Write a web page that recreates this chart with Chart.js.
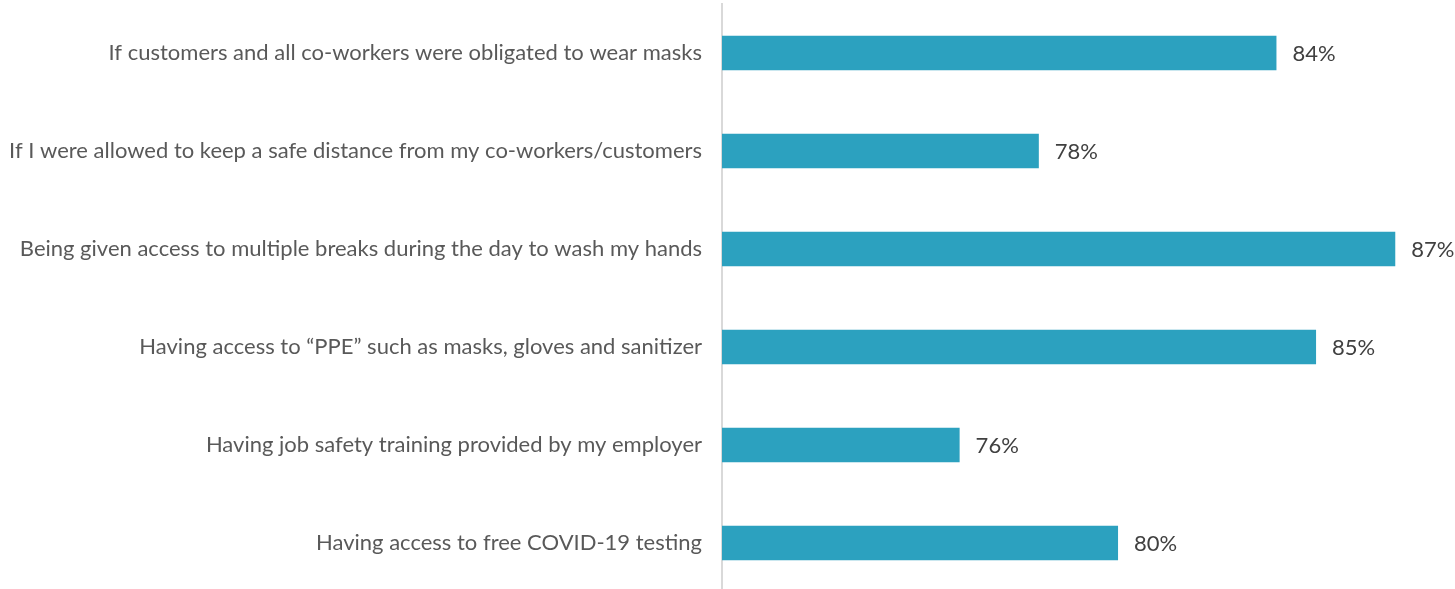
<!DOCTYPE html>
<html>
<head>
<meta charset="utf-8">
<script src="https://cdn.jsdelivr.net/npm/chart.js@4"></script>
<style>
  html, body { margin: 0; padding: 0; background: #fff; overflow: hidden; }
  #wrap { width: 1522px; height: 592px; }
</style>
</head>
<body>
<div id="wrap"><canvas id="miGrafica"></canvas></div>
<script>
var etiquetas = [
  "If customers and all co-workers were obligated to wear masks",
  "If I were allowed to keep a safe distance from my co-workers/customers",
  "Being given access to multiple breaks during the day to wash my hands",
  "Having access to \u201cPPE\u201d such as masks, gloves and sanitizer",
  "Having job safety training provided by my employer",
  "Having access to free COVID-19 testing"
]
var valores = [84, 78, 87, 85, 76, 80]
var eje_min = 70
var eje_max = 90.2

// escribe el % al final de cada barra
var etiquetasValor = {
  id: 'etiquetasValor',
  afterDatasetsDraw(chart) {
    var ctx = chart.ctx
    var meta = chart.getDatasetMeta(0)
    ctx.save()
    ctx.font = '22px Lato'
    ctx.fillStyle = '#404040'
    ctx.textBaseline = 'middle'
    ctx.textAlign = 'left'
    meta.data.forEach(function (bar, i) {
      ctx.fillText(valores[i] + '%', bar.x + 16, bar.y + 1)
    })
    ctx.restore()
  }
}

new Chart("miGrafica", {
  type: "bar",
  data: {
    labels: etiquetas,
    datasets: [{
      data: valores,
      backgroundColor: "#2ca1bf",
      borderWidth: 0,
      barPercentage: 0.35,
      categoryPercentage: 1.0
    }]
  },
  options: {
    indexAxis: 'y',
    responsive: true,
    maintainAspectRatio: false,
    animation: false,
    layout: { padding: { top: 4, bottom: 0, left: 0, right: 0 } },
    plugins: {
      legend: { display: false },
      tooltip: { enabled: false }
    },
    scales: {
      x: {
        min: eje_min,
        max: eje_max,
        display: false
      },
      y: {
        grid: { display: false, drawTicks: false },
        border: { display: true, color: '#d9d9d9', width: 2 },
        ticks: {
          padding: 20,
          color: '#595959',
          font: { family: 'Lato', size: 22 }
        },
        afterFit: function (scale) {
          scale.width = 722
          scale.paddingTop = 0
          scale.paddingBottom = 0
        }
      }
    }
  },
  plugins: [etiquetasValor]
})
</script>
</body>
</html>
